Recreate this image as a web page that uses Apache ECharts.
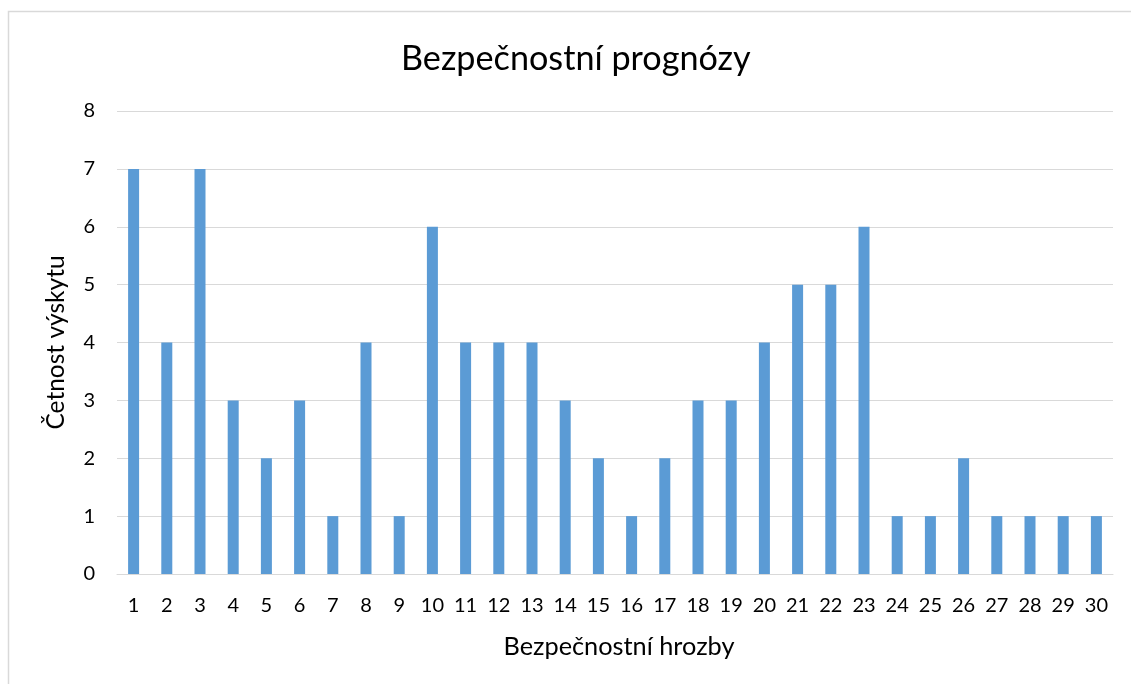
<!DOCTYPE html>
<html><head><meta charset="utf-8">
<script src="https://cdn.jsdelivr.net/npm/echarts@6/dist/echarts.min.js"></script>
<style>html,body{margin:0;padding:0;background:#fff}#c{width:1131px;height:684px}</style>
</head><body><div id="c"></div>
<script>
const categories = ["1","2","3","4","5","6","7","8","9","10","11","12","13","14","15","16","17","18","19","20","21","22","23","24","25","26","27","28","29","30"];
const values = [7,4,7,3,2,3,1,4,1,6,4,4,4,3,2,1,2,3,3,4,5,5,6,1,1,2,1,1,1,1];
const yTicks = [0,1,2,3,4,5,6,7,8];
const titleText = "Bezpečnostní prognózy";
const xName = "Bezpečnostní hrozby";
const yName = "Četnost výskytu";
const font = "Lato, 'Open Sans', sans-serif";
const chart = echarts.init(document.getElementById('c'), null, {renderer:'canvas'});
chart.setOption({
  animation:false,
  title:{text:titleText,left:396,top:37,textStyle:{fontFamily:font,fontSize:34.2,fontWeight:'normal',color:'#000'}},
  grid:{left:117,right:18,top:111,bottom:110,containLabel:false},
  graphic:[{type:'rect',shape:{x:8.5,y:11.5,width:1300,height:900},style:{fill:'none',stroke:'#D9D9D9',lineWidth:1.5},silent:true}],
  xAxis:{type:'category',data:categories,name:xName,nameLocation:'middle',nameGap:60,
    nameTextStyle:{fontFamily:font,fontSize:25.3,color:'#000',padding:[0,0,0,8]},
    axisLine:{lineStyle:{color:'#D9D9D9',width:1}},axisTick:{show:false},
    axisLabel:{fontFamily:font,fontSize:20,color:'#000',margin:22}},
  yAxis:{type:'value',min:yTicks[0],max:yTicks[yTicks.length-1],interval:1,name:yName,nameLocation:'middle',nameGap:48,
    nameTextStyle:{fontFamily:font,fontSize:24.5,color:'#000'},
    axisLine:{show:false},axisTick:{show:false},
    axisLabel:{fontFamily:font,fontSize:20,color:'#000',margin:22},
    splitLine:{lineStyle:{color:'#D9D9D9',width:1}}},
  series:[{type:'bar',data:values,barWidth:11,itemStyle:{color:'#5B9BD5'}}]
});
</script></body></html>
